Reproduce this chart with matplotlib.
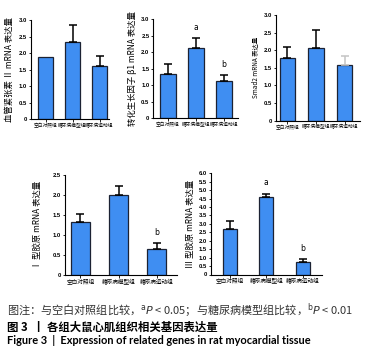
import matplotlib
matplotlib.use('Agg')
import numpy as np
import matplotlib.pyplot as plt
from matplotlib.ticker import MultipleLocator, FuncFormatter

# ------------ Data ---------------
groups = ['空白对照组', '糖尿病模型组', '糖尿病运动组']

ang2_mean = [1.89, 2.34, 1.62]
ang2_err = [0.0, 0.51, 0.29]

tgfb1_mean = [1.33, 2.11, 1.13]
tgfb1_err = [0.30, 0.33, 0.18]
tgfb1_marks = ['', 'a', 'b']

smad2_mean = [1.77, 2.07, 1.58]
smad2_err = [0.32, 0.51, 0.25]

col1_mean = [1.33, 2.00, 0.64]
col1_err = [0.19, 0.22, 0.17]
col1_marks = ['', '', 'b']

col3_mean = [2.70, 4.57, 0.75]
col3_err = [0.50, 0.23, 0.18]
col3_marks = ['', 'a', 'b']

CJK = ['Noto Sans CJK SC', 'DejaVu Sans']
W, H = 379, 353
BLUE = '#3f8ef2'
EDGE = '#1c2233'

fig = plt.figure(figsize=(W / 100, H / 100), dpi=100)


def px_axes(x0, x1, ytop, ybot):
    # axes placed in pixel coordinates of the reference
    return fig.add_axes([x0 / W, 1 - ybot / H, (x1 - x0) / W, (ybot - ytop) / H])


def fmt(v, pos):
    return '0' if abs(v) < 1e-9 else '%.1f' % v


def panel(ax, means, errs, ylabel, ymax, xlim, width, marks=None,
          ecolors=None, label_size=6, labelpad=3, xlab_size=3.4):
    x = np.arange(len(means))
    ax.bar(x, means, width=width, color=BLUE, edgecolor=EDGE, linewidth=0.9, zorder=2)
    if ecolors is None:
        ecolors = ['k'] * len(means)
    for xi, m, e, c in zip(x, means, errs, ecolors):
        if e > 0:
            ax.errorbar([xi], [m], yerr=[[0], [e]], fmt='none', ecolor=c,
                        elinewidth=1.1, capsize=3.2, capthick=1.1, zorder=3)
    if marks:
        for xi, m, e, s in zip(x, means, errs, marks):
            if s:
                ax.text(xi, m + e + ymax * 0.06, s, ha='center', va='bottom',
                        fontsize=5.5, family='DejaVu Sans')
    ax.set_xlim(*xlim)
    ax.set_ylim(0, ymax)
    ax.yaxis.set_major_locator(MultipleLocator(0.5))
    ax.yaxis.set_major_formatter(FuncFormatter(fmt))
    ax.set_xticks(x)
    ax.set_xticklabels(groups, family=CJK, fontsize=xlab_size)
    for lab in ax.get_yticklabels():
        lab.set_family('Liberation Sans')
        lab.set_fontweight('bold')
        lab.set_fontsize(4.2)
    ax.tick_params(axis='both', length=1.8, width=0.6, pad=1)
    for s in ['top', 'right']:
        ax.spines[s].set_visible(False)
    for s in ['left', 'bottom']:
        ax.spines[s].set_linewidth(0.8)
    ax.set_ylabel(ylabel, family=CJK, fontsize=label_size, labelpad=labelpad)


ax1 = px_axes(30.7, 109, 20, 119)
panel(ax1, ang2_mean, ang2_err, '血管紧张素 Ⅱ mRNA 表达量', 3.0, (-0.55, 2.35), 0.54)

ax2 = px_axes(153.3, 238, 19, 118.3)
panel(ax2, tgfb1_mean, tgfb1_err, '转化生长因子 β1 mRNA 表达量', 3.0, (-0.525, 2.5), 0.57,
      marks=tgfb1_marks)

ax3 = px_axes(275.7, 360, 15, 120.7)
panel(ax3, smad2_mean, smad2_err, 'Smad2 mRNA 表达量', 3.0, (-0.41, 2.54), 0.53,
      ecolors=['k', 'k', '#c4c4c4'], label_size=4.6)

ax4 = px_axes(65, 176.7, 175, 275)
panel(ax4, col1_mean, col1_err, 'Ⅰ 型胶原 mRNA 表达量', 2.5, (-0.4, 2.52), 0.5,
      marks=col1_marks, labelpad=8, xlab_size=4.1)

ax5 = px_axes(211, 322, 173.3, 274.5)
panel(ax5, col3_mean, col3_err, 'Ⅲ 型胶原 mRNA 表达量', 6.0, (-0.51, 2.52), 0.38,
      marks=col3_marks, xlab_size=4.1)

# ------------ Caption ---------------
fig.text(7 / W, 1 - 310 / H,
         '图注：与空白对照组比较，$^{\\mathrm{a}}P$ < 0.05；与糖尿病模型组比较，$^{\\mathrm{b}}P$ < 0.01',
         family=CJK, fontsize=8.0, color='#333333', va='center', ha='left')
fig.text(7 / W, 1 - 327 / H, '图 3  丨 各组大鼠心肌组织相关基因表达量',
         family=CJK, fontsize=8.2, fontweight='bold', va='center', ha='left')
fig.text(7 / W, 1 - 341 / H, 'Figure 3  |  Expression of related genes in rat myocardial tissue',
         family=['Lato', 'DejaVu Sans'], fontsize=7.9, fontweight='bold', va='center', ha='left')

fig.savefig('out.png', dpi=100)
